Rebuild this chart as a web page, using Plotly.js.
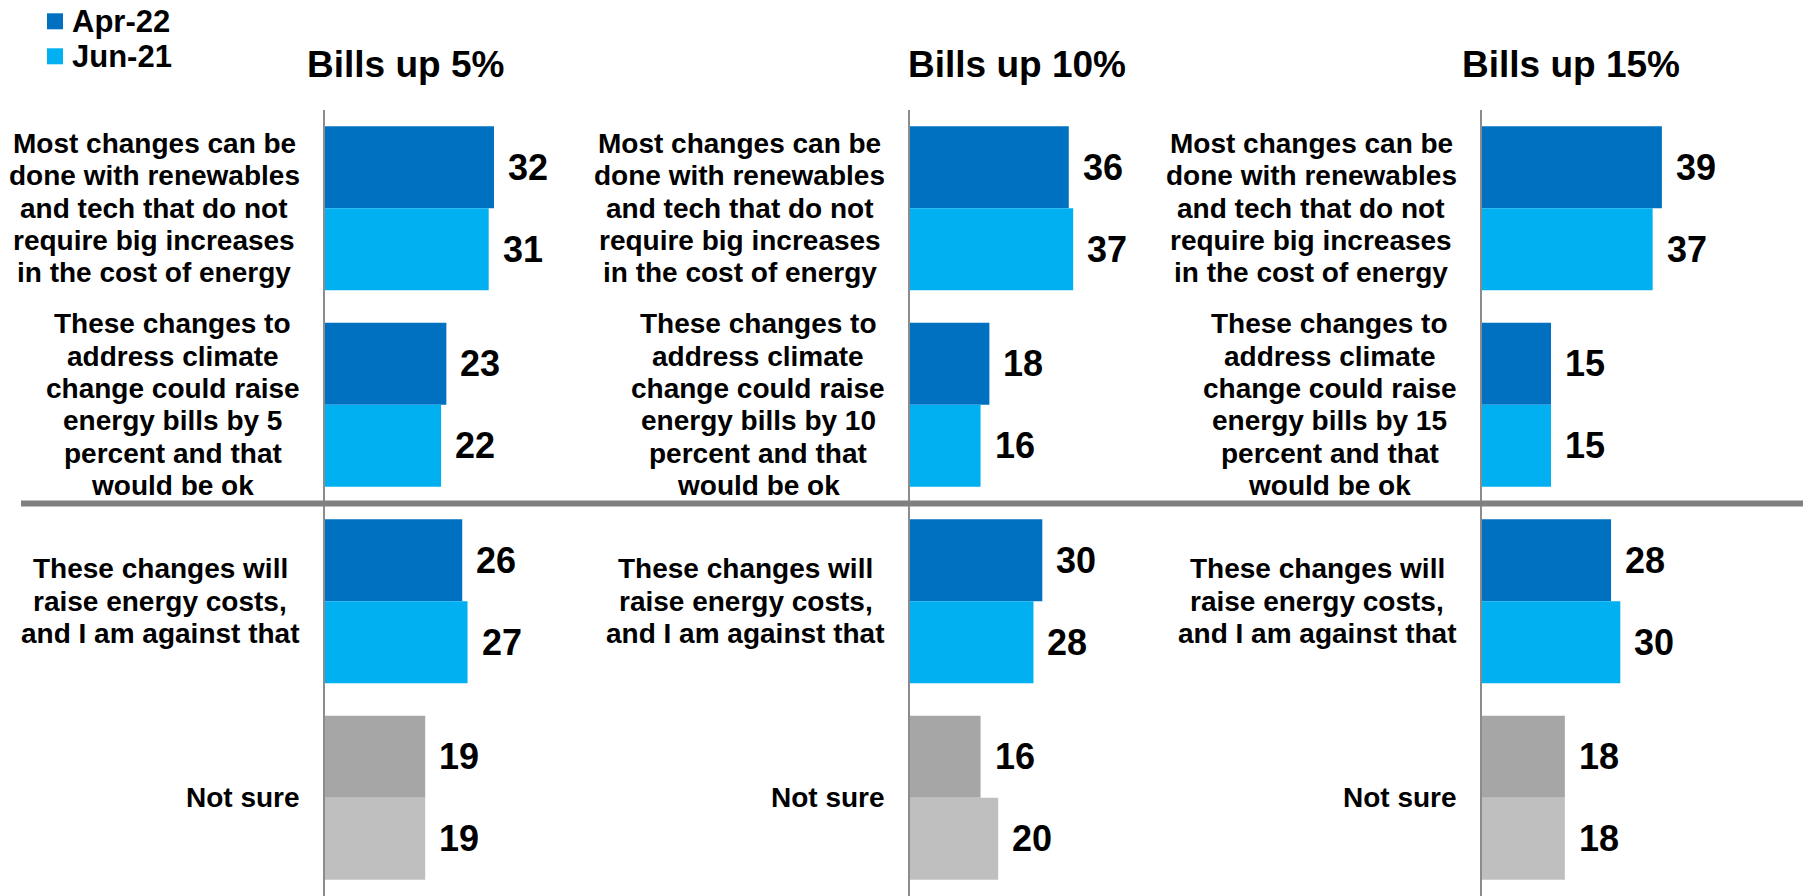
<!DOCTYPE html>
<html>
<head>
<meta charset="utf-8">
<script src="https://cdn.plot.ly/plotly-3.0.1.min.js"></script>
<style>
html,body{margin:0;padding:0;background:#ffffff;}
#chart{width:1812px;height:896px;}
</style>
</head>
<body>
<div id="chart"></div>
<script>
// ---------------- DATA ----------------
const seriesNames = ['Apr-22', 'Jun-21'];
const panelTitles = ['Bills up 5%', 'Bills up 10%', 'Bills up 15%'];

const labels5 = [
  'Most changes can be<br>done with renewables<br>and tech that do not<br>require big increases<br>in the cost of energy',
  'These changes to<br>address climate<br>change could raise<br>energy bills by 5<br>percent and that<br>would be ok',
  'These changes will<br>raise energy costs,<br>and I am against that',
  'Not sure'
];
const labels10 = [
  'Most changes can be<br>done with renewables<br>and tech that do not<br>require big increases<br>in the cost of energy',
  'These changes to<br>address climate<br>change could raise<br>energy bills by 10<br>percent and that<br>would be ok',
  'These changes will<br>raise energy costs,<br>and I am against that',
  'Not sure'
];
const labels15 = [
  'Most changes can be<br>done with renewables<br>and tech that do not<br>require big increases<br>in the cost of energy',
  'These changes to<br>address climate<br>change could raise<br>energy bills by 15<br>percent and that<br>would be ok',
  'These changes will<br>raise energy costs,<br>and I am against that',
  'Not sure'
];

const apr5  = [32, 23, 26, 19];
const jun5  = [31, 22, 27, 19];
const apr10 = [36, 18, 30, 16];
const jun10 = [37, 16, 28, 20];
const apr15 = [39, 15, 28, 18];
const jun15 = [37, 15, 30, 18];

// ---------------- LAYOUT / STYLE ----------------
const W = 1812, H = 896;
const FONT = 'Liberation Sans, Arial, Helvetica, sans-serif';
const colorsApr = ['#0070C0', '#0070C0', '#0070C0', '#A6A6A6'];
const colorsJun = ['#00B0F0', '#00B0F0', '#00B0F0', '#BFBFBF'];
const legendColors = ['#0070C0', '#00B0F0'];

const panels = [
  {labels: labels5,  series: [apr5, jun5]},
  {labels: labels10, series: [apr10, jun10]},
  {labels: labels15, series: [apr15, jun15]}
];
const axisPx = [324.7, 910, 1481.7];
const pxPerUnit = [5.29, 4.41, 4.62];
const titleCenterPx = [405, 1017, 1571];
const panelWidthPx = 300;
const plotTopPx = 110;
const yDomain = [0, (H - plotTopPx) / H];
const lineStep = 32.3;
const labelFontSize = 28;
const valueFontSize = 36;
const titleFontSize = 37;
const legendFontSize = 31;

const ctx = document.createElement('canvas').getContext('2d');
ctx.font = 'bold ' + labelFontSize + 'px "Liberation Sans", Arial, sans-serif';

const traces = [];
const annotations = [];
const shapes = [{
  type: 'line', xref: 'paper', yref: 'paper',
  x0: 21 / W, x1: 1803 / W,
  y0: 1 - 503.5 / H, y1: 1 - 503.5 / H,
  line: {color: '#808080', width: 6},
  layer: 'above'
}];

// legend (squares + text)
const legendRowPx = [21.3, 56.3];
seriesNames.forEach((nm, s) => {
  const cy = legendRowPx[s];
  shapes.push({
    type: 'rect', xref: 'paper', yref: 'paper',
    x0: 47 / W, x1: 63 / W, y0: 1 - (cy - 8) / H, y1: 1 - (cy + 8) / H,
    fillcolor: legendColors[s], line: {width: 0}
  });
  annotations.push({
    xref: 'paper', yref: 'paper', x: 70 / W, y: 1 - cy / H,
    xanchor: 'left', yanchor: 'middle', text: nm, showarrow: false,
    font: {family: FONT, size: legendFontSize, weight: 'bold', color: '#000000'}
  });
});

const layout = {
  width: W, height: H,
  margin: {l: 0, r: 0, t: 0, b: 0, pad: 0},
  paper_bgcolor: '#ffffff',
  plot_bgcolor: 'rgba(0,0,0,0)',
  font: {family: FONT, color: '#000000'},
  barmode: 'group',
  bargap: 0.1654,
  bargroupgap: 0,
  showlegend: false,
  shapes: shapes,
  annotations: annotations
};

panels.forEach((p, i) => {
  const sfx = i === 0 ? '' : String(i + 1);
  const xa = 'x' + sfx, ya = 'y' + sfx;
  const colors = [colorsApr, colorsJun];
  p.series.forEach((vals, s) => {
    traces.push({
      type: 'bar', orientation: 'h',
      name: seriesNames[s],
      legendgroup: seriesNames[s],
      x: vals, y: p.labels,
      xaxis: xa, yaxis: ya,
      marker: {color: colors[s], line: {width: 0}},
      hoverinfo: 'x'
    });
    // value labels
    vals.forEach((v, k) => {
      annotations.push({
        xref: xa, yref: ya, x: v, y: p.labels[k],
        text: String(v), showarrow: false,
        xanchor: 'left', yanchor: 'middle',
        xshift: 12, yshift: s === 0 ? 41 : -41,
        font: {family: FONT, size: valueFontSize, weight: 'bold', color: '#000000'}
      });
    });
  });

  const x0 = axisPx[i] / W;
  const x1 = (axisPx[i] + panelWidthPx) / W;
  layout['xaxis' + sfx] = {
    domain: [x0, x1],
    range: [0, panelWidthPx / pxPerUnit[i]],
    anchor: ya, visible: false, fixedrange: true
  };
  layout['yaxis' + sfx] = {
    domain: yDomain, anchor: xa, type: 'category',
    autorange: 'reversed',
    showline: true, linecolor: '#8C8C8C', linewidth: 2,
    showticklabels: false, ticks: '', showgrid: false, zeroline: false,
    fixedrange: true
  };

  // panel title
  annotations.push({
    xref: 'paper', yref: 'paper',
    x: titleCenterPx[i] / W, y: 1 - 64.7 / H,
    xanchor: 'center', yanchor: 'middle',
    text: panelTitles[i], showarrow: false,
    font: {family: FONT, size: titleFontSize, weight: 'bold', color: '#000000'}
  });

  // category labels, one annotation per line, block right-aligned, lines centred
  p.labels.forEach((lab) => {
    const lines = lab.split('<br>');
    let maxW = 0;
    lines.forEach(l => { maxW = Math.max(maxW, ctx.measureText(l).width); });
    const centerPx = axisPx[i] - 25 - maxW / 2;
    const n = lines.length;
    lines.forEach((l, j) => {
      annotations.push({
        xref: 'paper', yref: ya,
        x: centerPx / W, y: lab,
        xanchor: 'center', yanchor: 'middle',
        yshift: -(j - (n - 1) / 2) * lineStep,
        text: l, showarrow: false,
        font: {family: FONT, size: labelFontSize, weight: 'bold', color: '#000000'}
      });
    });
  });
});

Plotly.newPlot('chart', traces, layout, {displayModeBar: false, staticPlot: true});
</script>
</body>
</html>
